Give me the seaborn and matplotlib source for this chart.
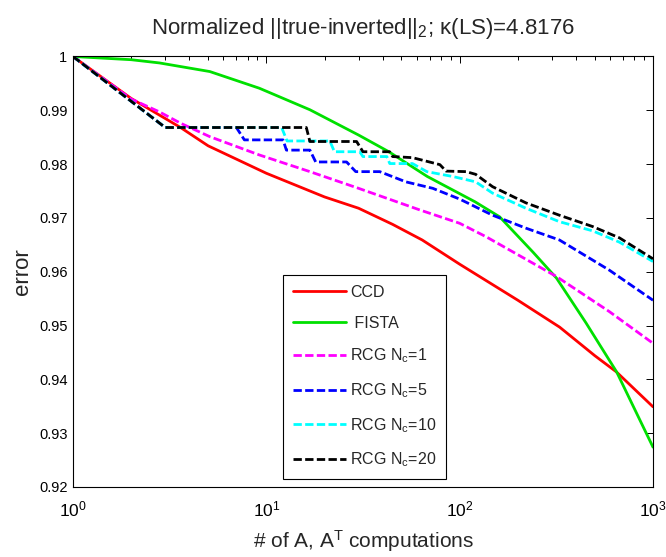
import numpy as np
import pandas as pd
import matplotlib
matplotlib.use("Agg")
import matplotlib.pyplot as plt
import seaborn as sns

# ---- data ----
ccd_x = [1, 2, 3.6, 5, 10, 20, 30, 45, 64, 100, 200, 329, 500, 646, 1000]
ccd_y = [1.0, 0.9922, 0.9868, 0.9834, 0.9783, 0.9739, 0.9718, 0.9688, 0.9659, 0.9614,
         0.9547, 0.9497, 0.9444, 0.9414, 0.9349]

fista_x = [1, 2, 2.8, 5.1, 9.2, 16.8, 30, 43, 68, 120, 161, 240, 317, 450, 648, 1000]
fista_y = [1.0, 0.9994, 0.9988, 0.9972, 0.9941, 0.9901, 0.9854, 0.9823, 0.9777,
           0.9730, 0.9702, 0.9636, 0.9588, 0.9505, 0.9414, 0.9274]

rcg1_x = [1, 2, 2.8, 3.6, 5.1, 9.2, 16.8, 30, 62, 100, 137, 317, 594, 1000]
rcg1_y = [1.0, 0.9921, 0.9897, 0.9876, 0.9851, 0.9817, 0.9786, 0.9755, 0.9715,
          0.9690, 0.9665, 0.9591, 0.9526, 0.9467]

rcg5_x = [1, 3.0, 7.0, 7.7, 12.2, 12.7, 16.8, 18, 26, 29, 38.6, 52.7, 72.6, 100,
          148, 220, 328, 594, 1000]
rcg5_y = [1.0, 0.9868, 0.9868, 0.9845, 0.9845, 0.9826, 0.9826, 0.9804, 0.9804,
          0.9786, 0.9786, 0.9767, 0.9755, 0.9735, 0.9705, 0.9681, 0.9659, 0.9603,
          0.9547]

rcg10_x = [1, 3.0, 12, 12.8, 21.3, 22.5, 30.4, 31.6, 42, 43.5, 57, 67.6, 92, 121,
           148, 220, 328, 487, 670, 1000]
rcg10_y = [1.0, 0.9868, 0.9868, 0.9843, 0.9843, 0.9823, 0.9823, 0.9814, 0.9814,
           0.9801, 0.9801, 0.9786, 0.9777, 0.9767, 0.9746, 0.9718, 0.9693, 0.9676,
           0.9655, 0.9619]

rcg20_x = [1, 3.0, 16.1, 16.8, 29.3, 31.6, 43.4, 45, 57, 79, 85, 108, 121, 148,
           220, 328, 487, 670, 1000]
rcg20_y = [1.0, 0.9868, 0.9868, 0.9842, 0.9842, 0.9823, 0.9823, 0.9814, 0.9812,
           0.9799, 0.9787, 0.9786, 0.9781, 0.9758, 0.9728, 0.9705, 0.9684, 0.9663,
           0.9624]

labels = ["CCD", " FISTA", "RCG N$_c$=1", "RCG N$_c$=5", "RCG N$_c$=10", "RCG N$_c$=20"]
y_ticks = [0.92, 0.93, 0.94, 0.95, 0.96, 0.97, 0.98, 0.99, 1.0]
y_tick_labels = ["0.92", "0.93", "0.94", "0.95", "0.96", "0.97", "0.98", "0.99", "1"]

series = [
    (ccd_x, ccd_y, "#ff0000", "-"),
    (fista_x, fista_y, "#00e000", "-"),
    (rcg1_x, rcg1_y, "#ff00ff", "--"),
    (rcg5_x, rcg5_y, "#0000ff", "--"),
    (rcg10_x, rcg10_y, "#00ffff", "--"),
    (rcg20_x, rcg20_y, "#000000", "--"),
]

sns.set_style("white")
plt.rcParams["font.family"] = ["Liberation Sans", "DejaVu Sans"]
plt.rcParams["mathtext.default"] = "regular"

fig = plt.figure(figsize=(6.66, 5.57), dpi=100)
ax = fig.add_axes([0.1096, 0.1257, 0.8709, 0.7729])

for (xs, ys, col, ls), lab in zip(series, labels):
    df = pd.DataFrame({"x": xs, "y": ys})
    sns.lineplot(data=df, x="x", y="y", ax=ax, estimator=None, sort=False,
                 color=col, linewidth=2.0, label=lab)
    ln = ax.get_lines()[-1]
    if ls == "--":
        ln.set_dashes((3, 1.2))

ax.set_xscale("log")
ax.set_xlim(1, 1000)
ax.set_ylim(0.92, 1.0)
ax.set_yticks(y_ticks)
ax.set_yticklabels(y_tick_labels)

ax.tick_params(axis="both", which="both", direction="in", top=True, right=True,
               colors="black")
ax.tick_params(axis="y", which="major", labelsize=10.5, pad=4)
ax.tick_params(axis="x", which="major", labelsize=12.5, pad=9)
ax.tick_params(which="major", length=5, width=0.7)
ax.tick_params(which="minor", length=3, width=0.7)
for s in ax.spines.values():
    s.set_color("black")
    s.set_linewidth(0.8)

ax.set_title("Normalized ||true-inverted||$_2$; \u03ba(LS)=4.8176", fontsize=16, pad=16)
ax.set_xlabel("# of A, A$^T$ computations", fontsize=15, labelpad=6)
ax.set_ylabel("error", fontsize=16, labelpad=4)

leg = ax.legend(loc="upper left", bbox_to_anchor=(0.3626, 0.4925), fontsize=11.5,
                frameon=True, fancybox=False, edgecolor="black", framealpha=1,
                labelspacing=1.0, handlelength=3.3, handletextpad=0.3,
                borderpad=0.6, borderaxespad=0)
leg.get_frame().set_linewidth(0.8)

fig.savefig("out.png", dpi=100)
